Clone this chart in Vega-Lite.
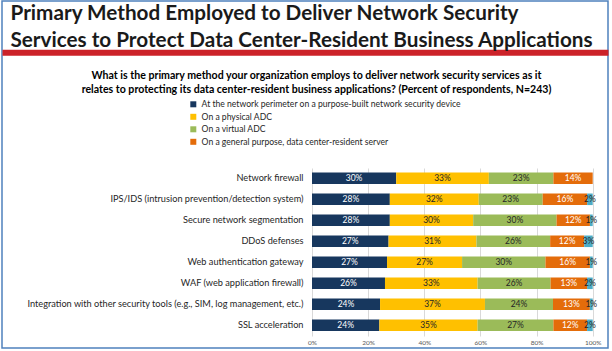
{
  "$schema": "https://vega.github.io/schema/vega-lite/v6.json",
  "width": 606,
  "height": 347,
  "autosize": {"type": "none"},
  "padding": {"left": 2, "top": 1, "right": 4, "bottom": 3},
  "background": "white",
  "config": {
    "font": "Lato",
    "view": {"stroke": "#4F81BD", "strokeWidth": 1.5}
  },
  "data": {
    "values": [
      {"cat": "Network firewall", "method": "At the network perimeter on a purpose-built network security device", "k": 1, "pct": 30},
      {"cat": "Network firewall", "method": "On a physical ADC", "k": 2, "pct": 33},
      {"cat": "Network firewall", "method": "On a virtual ADC", "k": 3, "pct": 23},
      {"cat": "Network firewall", "method": "On a general purpose, data center-resident server", "k": 4, "pct": 14},
      {"cat": "IPS/IDS (intrusion prevention/detection system)", "method": "At the network perimeter on a purpose-built network security device", "k": 1, "pct": 28},
      {"cat": "IPS/IDS (intrusion prevention/detection system)", "method": "On a physical ADC", "k": 2, "pct": 32},
      {"cat": "IPS/IDS (intrusion prevention/detection system)", "method": "On a virtual ADC", "k": 3, "pct": 23},
      {"cat": "IPS/IDS (intrusion prevention/detection system)", "method": "On a general purpose, data center-resident server", "k": 4, "pct": 16},
      {"cat": "IPS/IDS (intrusion prevention/detection system)", "method": "Other", "k": 5, "pct": 2},
      {"cat": "Secure network segmentation", "method": "At the network perimeter on a purpose-built network security device", "k": 1, "pct": 28},
      {"cat": "Secure network segmentation", "method": "On a physical ADC", "k": 2, "pct": 30},
      {"cat": "Secure network segmentation", "method": "On a virtual ADC", "k": 3, "pct": 30},
      {"cat": "Secure network segmentation", "method": "On a general purpose, data center-resident server", "k": 4, "pct": 12},
      {"cat": "Secure network segmentation", "method": "Other", "k": 5, "pct": 1},
      {"cat": "DDoS defenses", "method": "At the network perimeter on a purpose-built network security device", "k": 1, "pct": 27},
      {"cat": "DDoS defenses", "method": "On a physical ADC", "k": 2, "pct": 31},
      {"cat": "DDoS defenses", "method": "On a virtual ADC", "k": 3, "pct": 26},
      {"cat": "DDoS defenses", "method": "On a general purpose, data center-resident server", "k": 4, "pct": 12},
      {"cat": "DDoS defenses", "method": "Other", "k": 5, "pct": 3},
      {"cat": "Web authentication gateway", "method": "At the network perimeter on a purpose-built network security device", "k": 1, "pct": 27},
      {"cat": "Web authentication gateway", "method": "On a physical ADC", "k": 2, "pct": 27},
      {"cat": "Web authentication gateway", "method": "On a virtual ADC", "k": 3, "pct": 30},
      {"cat": "Web authentication gateway", "method": "On a general purpose, data center-resident server", "k": 4, "pct": 16},
      {"cat": "Web authentication gateway", "method": "Other", "k": 5, "pct": 1},
      {"cat": "WAF (web application firewall)", "method": "At the network perimeter on a purpose-built network security device", "k": 1, "pct": 26},
      {"cat": "WAF (web application firewall)", "method": "On a physical ADC", "k": 2, "pct": 33},
      {"cat": "WAF (web application firewall)", "method": "On a virtual ADC", "k": 3, "pct": 26},
      {"cat": "WAF (web application firewall)", "method": "On a general purpose, data center-resident server", "k": 4, "pct": 13},
      {"cat": "WAF (web application firewall)", "method": "Other", "k": 5, "pct": 2},
      {"cat": "Integration with other security tools (e.g., SIM, log management, etc.)", "method": "At the network perimeter on a purpose-built network security device", "k": 1, "pct": 24},
      {"cat": "Integration with other security tools (e.g., SIM, log management, etc.)", "method": "On a physical ADC", "k": 2, "pct": 37},
      {"cat": "Integration with other security tools (e.g., SIM, log management, etc.)", "method": "On a virtual ADC", "k": 3, "pct": 24},
      {"cat": "Integration with other security tools (e.g., SIM, log management, etc.)", "method": "On a general purpose, data center-resident server", "k": 4, "pct": 13},
      {"cat": "Integration with other security tools (e.g., SIM, log management, etc.)", "method": "Other", "k": 5, "pct": 1},
      {"cat": "SSL acceleration", "method": "At the network perimeter on a purpose-built network security device", "k": 1, "pct": 24},
      {"cat": "SSL acceleration", "method": "On a physical ADC", "k": 2, "pct": 35},
      {"cat": "SSL acceleration", "method": "On a virtual ADC", "k": 3, "pct": 27},
      {"cat": "SSL acceleration", "method": "On a general purpose, data center-resident server", "k": 4, "pct": 12},
      {"cat": "SSL acceleration", "method": "Other", "k": 5, "pct": 2}
    ]
  },
  "transform": [
    {"stack": "pct", "groupby": ["cat"], "sort": [{"field": "k"}], "as": ["v0", "v1"], "offset": "normalize"},
    {"calculate": "(datum.v0 + datum.v1) / 2", "as": "mid"},
    {"calculate": "datum.pct + '%'", "as": "label"}
  ],
  "layer": [
    {
      "mark": {"type": "bar"},
      "encoding": {
        "y": {
          "field": "cat", "type": "nominal",
          "sort": ["Network firewall", "IPS/IDS (intrusion prevention/detection system)", "Secure network segmentation", "DDoS defenses", "Web authentication gateway", "WAF (web application firewall)", "Integration with other security tools (e.g., SIM, log management, etc.)", "SSL acceleration"],
          "scale": {"range": [166.8, 334.8], "paddingInner": 0.45, "paddingOuter": 0.225},
          "axis": {
            "orient": "left", "offset": -310, "domain": false, "ticks": false, "grid": false,
            "labelPadding": 9, "labelFontSize": 9.2, "labelColor": "#262626", "labelLimit": 400,
            "title": ["Primary Method Employed to Deliver Network Security", "Services to Protect Data Center-Resident Business Applications"],
            "titleAngle": 0, "titleX": -302, "titleY": 2, "titleAlign": "left", "titleBaseline": "top",
            "titleFontSize": 20.7, "titleFontWeight": "bold", "titleLineHeight": 27, "titleColor": "#1a1a1a"
          }
        },
        "x": {
          "field": "v0", "type": "quantitative",
          "scale": {"domain": [-1.1044, 1.0545], "nice": false, "zero": false},
          "axis": {
            "values": [0, 0.2, 0.4, 0.6, 0.8, 1], "format": ".0%", "grid": false,
            "ticks": true, "tickSize": -168, "tickColor": "#D9D9D9", "tickWidth": 1, "zindex": 0,
            "domain": false, "labelFontSize": 6.5, "labelColor": "#595959",
            "offset": -12, "labelPadding": 171, "title": null
          }
        },
        "x2": {"field": "v1"},
        "color": {
          "field": "method", "type": "nominal",
          "scale": {
            "domain": ["At the network perimeter on a purpose-built network security device", "On a physical ADC", "On a virtual ADC", "On a general purpose, data center-resident server", "Other"],
            "range": ["#17375E", "#FFC000", "#9BBB59", "#E46C0A", "#4BACC6"]
          },
          "legend": {
            "orient": "none", "legendX": 187, "legendY": 99, "padding": 0,
            "values": ["At the network perimeter on a purpose-built network security device", "On a physical ADC", "On a virtual ADC", "On a general purpose, data center-resident server"],
            "title": null, "symbolType": "square", "symbolSize": 36, "symbolStrokeWidth": 0,
            "labelFontSize": 8.6, "labelColor": "#262626", "labelLimit": 400, "rowPadding": 3.5
          }
        }
      }
    },
    {
      "mark": {"type": "text", "fontSize": 8.5},
      "transform": [{"filter": "datum.pct > 0"}],
      "encoding": {
        "y": {
          "field": "cat", "type": "nominal",
          "sort": ["Network firewall", "IPS/IDS (intrusion prevention/detection system)", "Secure network segmentation", "DDoS defenses", "Web authentication gateway", "WAF (web application firewall)", "Integration with other security tools (e.g., SIM, log management, etc.)", "SSL acceleration"]
        },
        "x": {
          "field": "mid", "type": "quantitative",
          "axis": {
            "orient": "top", "offset": -51.3, "domainColor": "#CC2229", "domainWidth": 6,
            "labels": false, "ticks": false, "grid": false,
            "title": ["What is the primary method your organization employs to deliver network security services as it", "relates to protecting its data center-resident business applications? (Percent of respondents, N=243)"],
            "titleX": 314, "titleY": 18, "titleAlign": "center", "titleBaseline": "top",
            "titleFontSize": 10.6, "titleFontWeight": "bold", "titleColor": "#000000", "titleLineHeight": 14.5
          }
        },
        "text": {"field": "label"},
        "color": {"condition": {"test": "datum.k == 1 || datum.k == 4", "value": "#FFFFFF"}, "value": "#262626"}
      }
    }
  ],
  "resolve": {"axis": {"x": "independent"}}
}
